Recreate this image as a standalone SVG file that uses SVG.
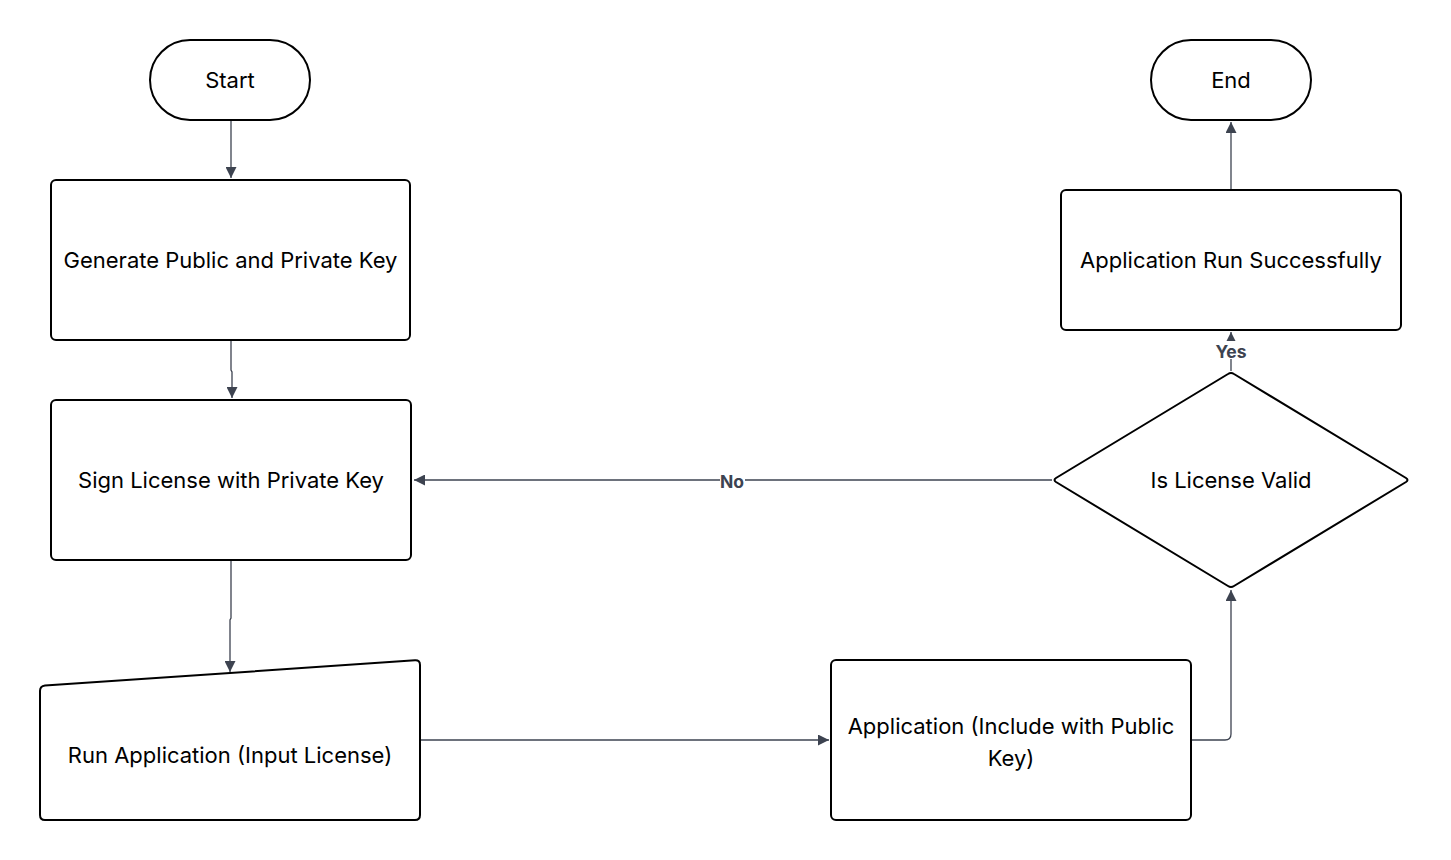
<svg xmlns="http://www.w3.org/2000/svg" width="1451" height="860" viewBox="0 0 1451 860">
<style>
.node{fill:#fff;stroke:#000;stroke-width:2}
.lbl{font-family:Inter,"Liberation Sans",Arial,sans-serif;font-size:22px;fill:#000;text-anchor:middle;dominant-baseline:central}
.edge{fill:none;stroke:#3d4350;stroke-width:1.3}
.elbl{font-family:Inter,"Liberation Sans",Arial,sans-serif;font-size:17.5px;font-weight:bold;fill:#3d4350;text-anchor:middle;dominant-baseline:central}
</style>
<defs>
<marker id="arr" viewBox="0 0 10 10" refX="10" refY="5" markerWidth="11" markerHeight="11" markerUnits="userSpaceOnUse" orient="auto">
<path d="M0,0 L10,5 L0,10 z" fill="#3d4350"/>
</marker>
</defs>
<rect width="1451" height="860" fill="#fff"/>
<g id="connectors">
<path class="edge" d="M231,121 V178" marker-end="url(#arr)"/>
<path class="edge" d="M231,341 V370 L232,372 V398" marker-end="url(#arr)"/>
<path class="edge" d="M231,561 V618 L230,620 V672" marker-end="url(#arr)"/>
<path class="edge" d="M421,740 H829" marker-end="url(#arr)"/>
<path class="edge" d="M1192,740 H1225 Q1231,740 1231,734 V590" marker-end="url(#arr)"/>
<path class="edge" d="M1052,480 H414" marker-end="url(#arr)"/>
<rect x="720" y="471" width="25" height="18" fill="#fff"/>
<text class="elbl" x="732" y="481">No</text>
<path class="edge" d="M1231,371 V332" marker-end="url(#arr)"/>
<rect x="1215" y="341" width="32" height="18" fill="#fff"/>
<text class="elbl" x="1231" y="351">Yes</text>
<path class="edge" d="M1231,189 V122" marker-end="url(#arr)"/>
</g>
<g id="start">
<rect class="node" x="150" y="40" width="160" height="80" rx="40"/>
<text class="lbl" x="230" y="80">Start</text>
</g>
<g id="generate">
<rect class="node" x="51" y="180" width="359" height="160" rx="5"/>
<text class="lbl" x="230.5" y="260">Generate Public and Private Key</text>
</g>
<g id="sign">
<rect class="node" x="51" y="400" width="360" height="160" rx="5"/>
<text class="lbl" x="231" y="480">Sign License with Private Key</text>
</g>
<g id="run">
<path class="node" d="M45,685.5 L415,660.3 Q420,660 420,665 V815 Q420,820 415,820 H45 Q40,820 40,815 V691 Q40,686 45,685.5 Z"/>
<text class="lbl" x="230" y="755">Run Application (Input License)</text>
</g>
<g id="application">
<rect class="node" x="831" y="660" width="360" height="160" rx="5"/>
<text class="lbl" x="1011" y="726">Application (Include with Public</text>
<text class="lbl" x="1011" y="758">Key)</text>
</g>
<g id="valid">
<path class="node" d="M1228,374 Q1231,372 1234,374 L1406,478 Q1409,480 1406,482 L1234,586 Q1231,588 1228,586 L1056,482 Q1053,480 1056,478 Z"/>
<text class="lbl" x="1231" y="480">Is License Valid</text>
</g>
<g id="success">
<rect class="node" x="1061" y="190" width="340" height="140" rx="5"/>
<text class="lbl" x="1231" y="260">Application Run Successfully</text>
</g>
<g id="end">
<rect class="node" x="1151" y="40" width="160" height="80" rx="40"/>
<text class="lbl" x="1231" y="80">End</text>
</g>
</svg>
